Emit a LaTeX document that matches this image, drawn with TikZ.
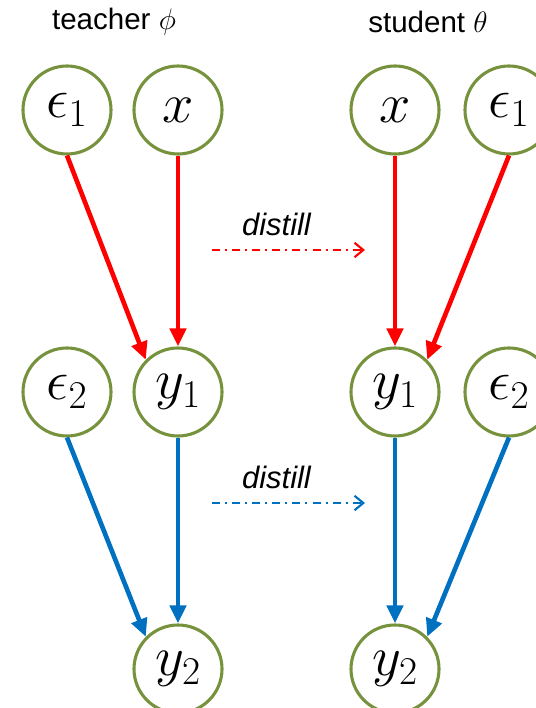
\RequirePackage{fix-cm}
\documentclass[tikz,border=0pt]{standalone}
\usepackage{amsmath}
\usepackage{fontspec}
\newfontfamily\arialfont{Liberation Sans}
\usepackage{tikz}
\usetikzlibrary{arrows.meta}
\definecolor{circgreen}{RGB}{118,146,60}
\definecolor{arrred}{RGB}{255,0,0}
\definecolor{arrblue}{RGB}{0,112,192}

\begin{document}
\begin{tikzpicture}[>={Triangle[length=0.45cm, width=0.4cm]},
  var/.style={circle, draw=circgreen, line width=2.2pt, minimum size=2.2cm, inner sep=0pt, font=\fontsize{40}{42}\selectfont},
  redarrow/.style={->, draw=arrred, fill=arrred, line width=3.3pt},
  bluearrow/.style={->, draw=arrblue, fill=arrblue, line width=3.3pt},
  distill/.style={-{Straight Barb[length=0.22cm, width=0.36cm]}, line width=1.5pt, dash pattern=on 5.7pt off 3.6pt on 1.4pt off 3.6pt},
  title/.style={font=\arialfont\fontsize{21}{24}\selectfont}]
\useasboundingbox (0,0) rectangle (13.4,17.7);
\node[title] (t) at (2.85, 17.15) {teacher $\phi$};
\node[title] (s) at (10.7, 17.15) {student $\theta$};
% teacher
\node[var] (1) at (1.675, 14.95) {$\epsilon_1$};
\node[var] (2) at (4.45, 14.95)  {$x$};
\node[var] (3) at (1.675, 7.9)   {$\epsilon_2$};
\node[var] (4) at (4.45, 7.9)    {$y_1$};
\node[var] (5) at (4.45, 0.975)  {$y_2$};
% student
\node[var] (6) at (9.875, 14.95)  {$x$};
\node[var] (7) at (12.725, 14.95) {$\epsilon_1$};
\node[var] (8) at (9.875, 7.9)    {$y_1$};
\node[var] (9) at (12.725, 7.9)   {$\epsilon_2$};
\node[var] (10) at (9.875, 0.975) {$y_2$};
 \draw [redarrow] (1.south)--(4.north west);
 \draw [redarrow] (2.south)--(4.north);
 \draw [redarrow] (6.south)--(8.north);
 \draw [redarrow] (7.south)--(8.north east);
 \draw [bluearrow] (3.south)--(5.north west);
 \draw [bluearrow] (4.south)--(5.north);
 \draw [bluearrow] (8.south)--(10.north);
 \draw [bluearrow] (9.south)--(10.north east);
% distill
\coordinate (a1) at (5.3, 11.45);
\coordinate (b1) at (9.125, 11.45);
\coordinate (a2) at (5.3, 5.125);
\coordinate (b2) at (9.125, 5.125);
  \draw [distill, arrred] (a1)--(b1)node[midway, above, xshift=-3mm, yshift=2mm, text=black, font=\arialfont\itshape\fontsize{22}{24}\selectfont]{distill};
  \draw [distill, arrblue] (a2)--(b2)node[midway, above, xshift=-3mm, yshift=2mm, text=black, font=\arialfont\itshape\fontsize{22}{24}\selectfont]{distill};
\end{tikzpicture}
\end{document}
